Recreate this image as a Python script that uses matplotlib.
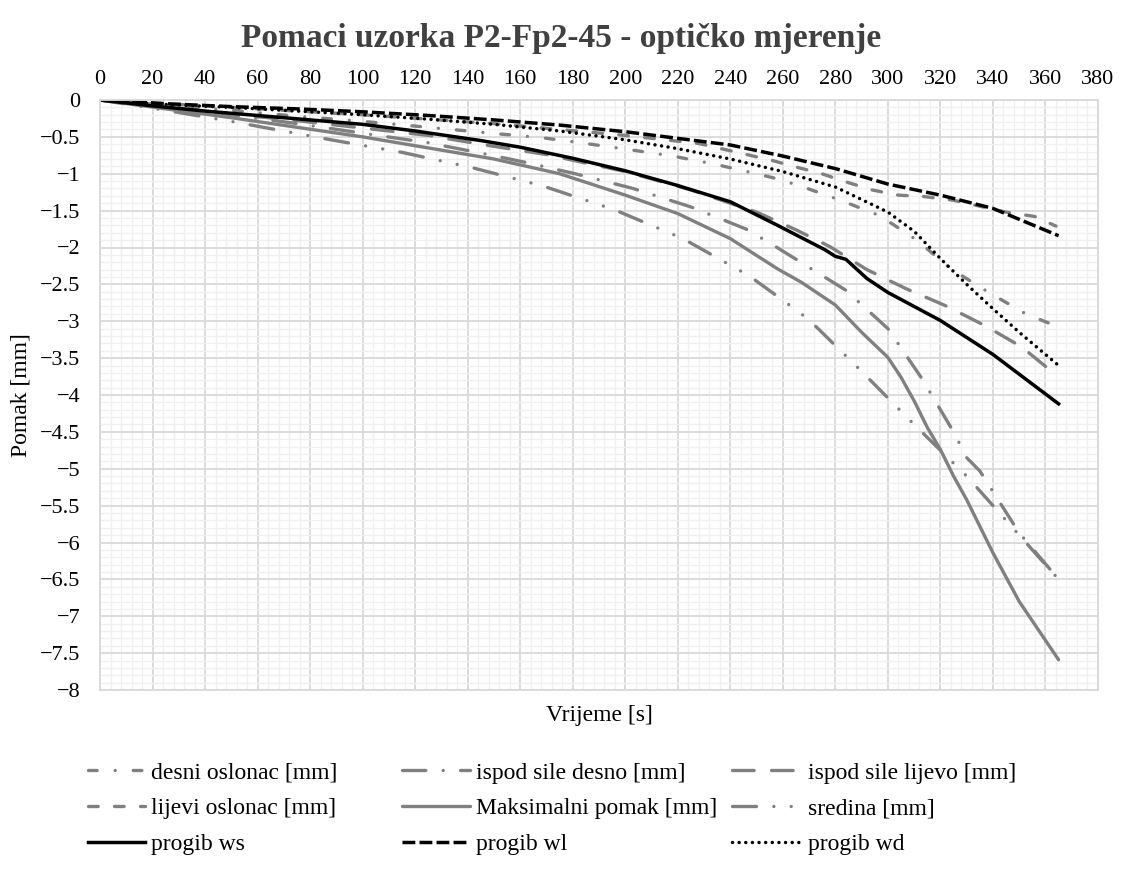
import numpy as np
import matplotlib
matplotlib.use('Agg')
import matplotlib.pyplot as plt
import matplotlib.ticker as ticker

plt.rcParams['font.family'] = ['Liberation Serif', 'DejaVu Serif']

# vrijeme [s] i pomaci [mm] po seriji
t_desni = [0, 25, 50, 75, 100, 125, 152, 168, 185, 201, 218, 234, 250, 258,
           267, 282, 297, 311, 324, 338, 352, 365]
w_desni = [0, -0.07, -0.14, -0.22, -0.29, -0.37, -0.46, -0.51, -0.59, -0.67,
           -0.76, -0.87, -1.00, -1.07, -1.17, -1.36, -1.57, -1.90, -2.29,
           -2.60, -2.89, -3.08]

t_desno = [0, 25, 50, 75, 100, 125, 145, 160, 181, 203, 225, 246, 256, 270,
           284, 300, 313, 325, 330, 335, 350, 365]
w_desno = [0, -0.10, -0.20, -0.32, -0.45, -0.58, -0.72, -0.83, -1.00, -1.20,
           -1.45, -1.75, -1.96, -2.27, -2.58, -3.10, -3.78, -4.50, -4.85,
           -5.03, -5.87, -6.50]

t_lijevo = [0, 25, 50, 75, 100, 125, 145, 170, 200, 225, 250, 265, 278, 292,
            307, 322, 337, 351, 362, 365]
w_lijevo = [0, -0.09, -0.19, -0.28, -0.38, -0.48, -0.60, -0.74, -0.97, -1.22,
            -1.52, -1.76, -1.99, -2.30, -2.56, -2.79, -3.06, -3.35, -3.67,
            -3.76]

t_lijevi = [0, 25, 50, 75, 100, 125, 150, 175, 200, 228, 256, 264, 274, 284,
            294, 304, 314, 325, 345, 356, 364]
w_lijevi = [0, -0.05, -0.10, -0.15, -0.20, -0.26, -0.32, -0.40, -0.48, -0.59,
            -0.82, -0.90, -0.99, -1.11, -1.22, -1.29, -1.31, -1.36, -1.52,
            -1.58, -1.71]

t_maks = [0, 25, 50, 75, 100, 125, 150, 175, 200, 220, 240, 258, 267, 280,
          290, 300, 305, 310, 315, 320, 325, 330, 340, 350, 365]
w_maks = [0, -0.12, -0.24, -0.37, -0.50, -0.65, -0.80, -1.00, -1.29, -1.54,
          -1.88, -2.29, -2.47, -2.78, -3.15, -3.49, -3.76, -4.08, -4.44,
          -4.74, -5.10, -5.42, -6.14, -6.80, -7.59]

t_sredina = [0, 25, 50, 88, 115, 142, 169, 196, 222, 247, 261, 270, 290, 310,
             330, 350, 365]
w_sredina = [0, -0.14, -0.29, -0.54, -0.71, -0.92, -1.17, -1.49, -1.88,
             -2.38, -2.74, -2.98, -3.68, -4.40, -5.10, -5.90, -6.50]

t_ws = [0, 20, 40, 60, 80, 100, 120, 145, 160, 180, 200, 220, 240, 258, 276,
        280, 284, 292, 300, 320, 340, 365]
w_ws = [0, -0.08, -0.15, -0.21, -0.27, -0.33, -0.42, -0.55, -0.64, -0.79,
        -0.96, -1.16, -1.38, -1.70, -2.03, -2.12, -2.16, -2.42, -2.61, -2.99,
        -3.45, -4.12]

t_wl = [0, 25, 50, 75, 100, 125, 150, 175, 200, 220, 240, 260, 280, 300,
        320, 340, 365]
w_wl = [0, -0.05, -0.09, -0.12, -0.16, -0.21, -0.27, -0.34, -0.43, -0.52,
        -0.61, -0.76, -0.93, -1.14, -1.29, -1.47, -1.84]

t_wd = [0, 25, 50, 75, 100, 125, 150, 175, 200, 220, 240, 260, 280, 300,
        310, 320, 330, 340, 350, 365]
w_wd = [0, -0.06, -0.10, -0.15, -0.20, -0.26, -0.33, -0.42, -0.54, -0.66,
        -0.80, -0.97, -1.18, -1.52, -1.78, -2.15, -2.50, -2.83, -3.15, -3.60]

x_ticks = np.arange(0, 381, 20)
y_ticks = np.arange(-8, 0.01, 0.5)

GRAY = '#808080'
LW_G = 2.4
LW_B = 2.5

fig = plt.figure(figsize=(11.23, 8.77), dpi=100)
ax = fig.add_axes([100 / 1123, 1 - 690 / 877, 998 / 1123, 590 / 877])

gray = dict(color=GRAY, lw=LW_G, dash_capstyle='round',
            solid_capstyle='round')
lines = {}
lines['desni'] = ax.plot(t_desni, w_desni, dashes=(2.6, 5.4, 0.01, 5.4),
                         label='desni oslonac [mm]', **gray)[0]
lines['desno'] = ax.plot(t_desno, w_desno, dashes=(7, 5.2, 0.01, 5.2),
                         label='ispod sile desno [mm]', **gray)[0]
lines['lijevo'] = ax.plot(t_lijevo, w_lijevo, dashes=(6.5, 5.2),
                          label='ispod sile lijevo [mm]', **gray)[0]
lines['lijevi'] = ax.plot(t_lijevi, w_lijevi, dashes=(2.9, 4.9),
                          label='lijevi oslonac [mm]', **gray)[0]
lines['maks'] = ax.plot(t_maks, w_maks, label='Maksimalni pomak [mm]',
                        **gray)[0]
lines['sredina'] = ax.plot(t_sredina, w_sredina,
                           dashes=(7.2, 5.2, 0.01, 5.2, 0.01, 5.2),
                           label='sredina [mm]', **gray)[0]
lines['ws'] = ax.plot(t_ws, w_ws, color='black', lw=LW_B,
                      label='progib ws')[0]
lines['wl'] = ax.plot(t_wl, w_wl, color='black', lw=LW_B,
                      dashes=(3.7, 1.2), label='progib wl')[0]
lines['wd'] = ax.plot(t_wd, w_wd, color='black', lw=LW_B, dashes=(0.01, 1.9),
                      dash_capstyle='round', label='progib wd')[0]

ax.set_xlim(0, 380)
ax.set_ylim(-8, 0)
ax.xaxis.tick_top()
ax.set_xticks(x_ticks)
ax.set_yticks(y_ticks)
ax.xaxis.set_minor_locator(ticker.MultipleLocator(4))
ax.yaxis.set_minor_locator(ticker.MultipleLocator(0.1))
ax.yaxis.set_major_formatter(ticker.FuncFormatter(
    lambda v, pos: ('%g' % v).replace('-', '\u2212')))
ax.tick_params(which='both', length=0, labelsize=16)
ax.tick_params(axis='x', pad=8)
ax.tick_params(axis='y', pad=14)
ax.grid(which='minor', color='#f0f0f0', lw=1.0)
ax.grid(which='major', color='#d9d9d9', lw=1.3)
ax.set_axisbelow(True)
for s in ax.spines.values():
    s.set_color('#d9d9d9')
    s.set_linewidth(1.3)

ax.set_xlabel('Vrijeme [s]', fontsize=17, labelpad=11)
ax.xaxis.set_label_position('bottom')
ax.set_ylabel('Pomak [mm]', fontsize=17, labelpad=6)
fig.text(0.5, 1 - 38 / 877, 'Pomaci uzorka P2-Fp2-45 - optičko mjerenje',
         ha='center', va='center', fontsize=24, fontweight='bold',
         color='#404040')

# legenda u tri stupca
columns = [
    (['desni', 'lijevi', 'ws'], 88, 2.4),
    (['desno', 'maks', 'wl'], 402, 2.9),
    (['lijevo', 'sredina', 'wd'], 732, 2.95),
]
for keys, x0, hl in columns:
    hs = [lines[k] for k in keys]
    fig.legend(hs, [h.get_label() for h in hs], loc='upper left',
               bbox_to_anchor=(x0 / 1123, 1 - 762 / 877),
               frameon=False, fontsize=17, borderpad=0,
               borderaxespad=0, handlelength=hl, handletextpad=0.25,
               labelspacing=0.6)

fig.savefig('out.png', dpi=100)
